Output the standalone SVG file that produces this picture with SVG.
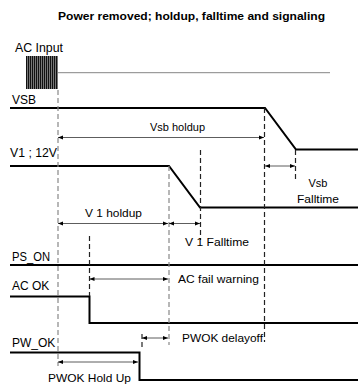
<svg xmlns="http://www.w3.org/2000/svg" width="358" height="385" viewBox="0 0 358 385">
<style>
text{font-family:"Liberation Sans",Arial,sans-serif;font-size:11px;fill:#000}
.title{font-weight:bold;font-size:10.5px}
.name{font-size:12px}
.sig{fill:none;stroke:#000;stroke-width:2}
.dash{fill:none;stroke:#222;stroke-width:1.2;stroke-dasharray:5 3}
.dashl{fill:none;stroke:#888;stroke-width:1.2;stroke-dasharray:5 3}
.arr{fill:none;stroke:#333;stroke-width:0.8;marker-start:url(#ah);marker-end:url(#ah)}
</style>
<defs>
<marker id="ah" viewBox="0 0 10 10" refX="10" refY="5" markerWidth="6" markerHeight="5" markerUnits="userSpaceOnUse" orient="auto-start-reverse">
<path d="M0,1 L10,5 L0,9 Z" fill="#000"/>
</marker>
<pattern id="burst" x="26" y="0" width="2" height="40" patternUnits="userSpaceOnUse">
<rect x="0" y="0" width="2" height="40" fill="#777"/>
<rect x="0" y="0" width="1" height="40" fill="#111"/>
</pattern>
</defs>
<rect width="358" height="385" fill="#fff"/>
<text class="title" x="191.5" y="20" text-anchor="middle" textLength="267" lengthAdjust="spacingAndGlyphs">Power removed; holdup, falltime and signaling</text>

<g id="ac-input">
<text class="name" x="15" y="52" textLength="48" lengthAdjust="spacingAndGlyphs">AC Input</text>
<rect x="26" y="56" width="32" height="33" fill="url(#burst)"/>
<line x1="58" y1="72.7" x2="330" y2="72.7" stroke="#666" stroke-width="0.8"/>
</g>

<g id="vsb">
<text class="name" x="12" y="104">VSB</text>
<path class="sig" d="M10,108 H265 L296,149.5 H358"/>
</g>

<g id="v1">
<text class="name" x="10" y="157" textLength="47" lengthAdjust="spacingAndGlyphs">V1 ; 12V</text>
<path class="sig" d="M10,166 H169 L200,207.5 H358"/>
</g>

<g id="ps-on">
<text class="name" x="12" y="261" textLength="38" lengthAdjust="spacingAndGlyphs">PS_ON</text>
<path class="sig" d="M10,265 H358"/>
</g>

<g id="ac-ok">
<text class="name" x="12" y="290">AC OK</text>
<path class="sig" d="M10,296.5 H89.5 V323 H358"/>
</g>

<g id="pw-ok">
<text class="name" x="12" y="347">PW_OK</text>
<path class="sig" d="M10,352.5 H139.5 V380 H358"/>
</g>

<g id="connectors">
<path class="dashl" d="M58,90 V366"/>
<path class="dashl" d="M169,166 V345"/>
<path class="dash" d="M89.5,236 V296"/>
<path class="dash" d="M200.5,150 V240"/>
<path class="dash" d="M264.5,108 V342"/>
<path class="dash" d="M295.5,150 V180"/>
<path class="dash" d="M142,334 V350"/>

<path class="arr" d="M58,137.5 H264"/>
<path class="arr" d="M265,166 H295"/>
<path class="arr" d="M58,223.5 H168"/>
<path class="arr" d="M169,223.5 H200"/>
<path class="arr" d="M89.5,279 H168"/>
<path class="arr" d="M142,338 H168"/>
<path class="arr" d="M58,362 H138"/>
</g>

<g id="labels">
<text x="177.5" y="131" text-anchor="middle" textLength="55" lengthAdjust="spacingAndGlyphs">Vsb holdup</text>
<text x="318" y="187" text-anchor="middle">Vsb</text>
<text x="318" y="203" text-anchor="middle" textLength="42" lengthAdjust="spacingAndGlyphs">Falltime</text>
<text x="113.5" y="217" text-anchor="middle" textLength="57" lengthAdjust="spacingAndGlyphs">V 1 holdup</text>
<text x="185" y="246" textLength="64" lengthAdjust="spacingAndGlyphs">V 1 Falltime</text>
<text x="178" y="283" textLength="81" lengthAdjust="spacingAndGlyphs">AC fail warning</text>
<text x="182" y="342" textLength="81" lengthAdjust="spacingAndGlyphs">PWOK delayoff</text>
<text x="48" y="382" textLength="83" lengthAdjust="spacingAndGlyphs">PWOK Hold Up</text>
</g>
</svg>
